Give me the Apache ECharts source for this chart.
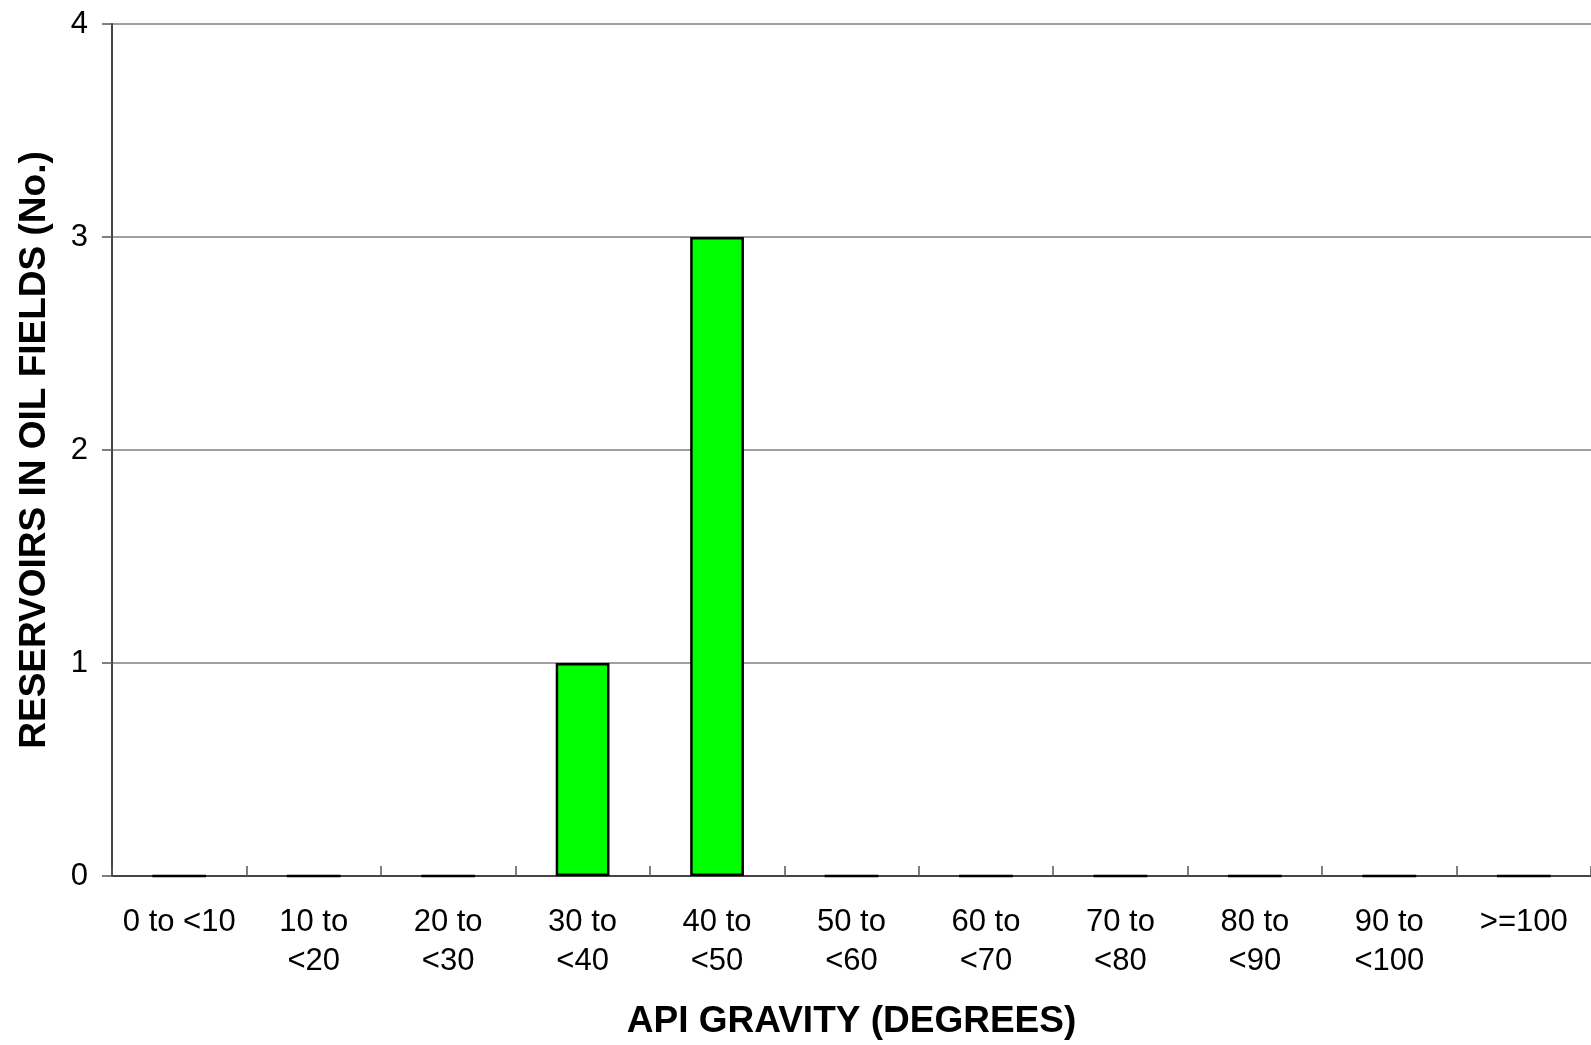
<!DOCTYPE html>
<html>
<head>
<meta charset="utf-8">
<script src="https://cdn.jsdelivr.net/npm/echarts@6/dist/echarts.min.js"></script>
<style>html,body{margin:0;padding:0;background:#fff;overflow:hidden}#c{width:1591px;height:1045px}</style>
</head>
<body>
<div id="c"></div>
<script>
var categories = ['0 to <10', '10 to\n<20', '20 to\n<30', '30 to\n<40', '40 to\n<50', '50 to\n<60', '60 to\n<70', '70 to\n<80', '80 to\n<90', '90 to\n<100', '>=100'];
var reservoirs = [0, 0, 0, 1, 3, 0, 0, 0, 0, 0, 0];
var yTicks = {min: 0, max: 4, interval: 1};
var xTitle = 'API GRAVITY (DEGREES)';
var yTitle = 'RESERVOIRS IN OIL FIELDS (No.)';

var chart = echarts.init(document.getElementById('c'), null, {renderer: 'canvas'});
var font = 'Liberation Sans, Arial, sans-serif';
chart.setOption({
  animation: false,
  backgroundColor: '#ffffff',
  grid: {left: 112, top: 24, width: 1490.5, bottom: 164, containLabel: false},
  xAxis: {
    type: 'category',
    data: categories,
    boundaryGap: true,
    name: xTitle,
    nameLocation: 'middle',
    nameGap: 127,
    nameTextStyle: {fontFamily: font, fontSize: 37, fontWeight: 'bold', color: '#000', verticalAlign: 'top'},
    axisLine: {lineStyle: {color: '#444', width: 2}},
    axisTick: {show: true, inside: true, length: 10, lineStyle: {color: '#555', width: 1.5}},
    axisLabel: {fontFamily: font, fontSize: 31, color: '#000', margin: 27, lineHeight: 39, interval: 0},
    splitLine: {show: false}
  },
  yAxis: {
    type: 'value',
    min: yTicks.min, max: yTicks.max, interval: yTicks.interval,
    name: yTitle,
    nameLocation: 'middle',
    nameGap: 59,
    nameTextStyle: {fontFamily: font, fontSize: 37, fontWeight: 'bold', color: '#000'},
    axisLine: {show: true, lineStyle: {color: '#444', width: 2}},
    axisTick: {show: true, inside: false, length: 10, lineStyle: {color: '#555', width: 1.5}},
    axisLabel: {fontFamily: font, fontSize: 31, color: '#000', margin: 24},
    splitLine: {show: true, lineStyle: {color: '#808080', width: 1.5}}
  },
  series: [{
    type: 'bar',
    data: reservoirs,
    barWidth: '40%',
    itemStyle: {color: '#00ff00', borderColor: '#000', borderWidth: 2.5}
  }]
});
</script>
</body>
</html>
